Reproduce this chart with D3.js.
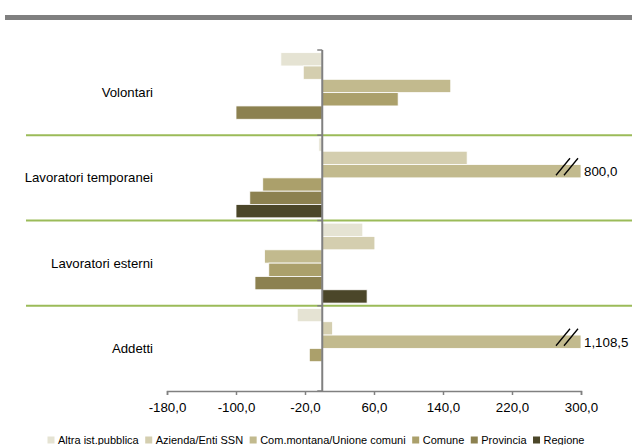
<!DOCTYPE html>
<html>
<head>
<meta charset="utf-8">
<script src="https://cdn.jsdelivr.net/npm/d3@7"></script>
<style>
  html, body { margin: 0; padding: 0; background: #fff; }
  svg { display: block; font-family: "Liberation Sans", Arial, sans-serif; }
</style>
</head>
<body>
<svg id="chart" width="632" height="445"></svg>
<script>
// ---- data ----
const categories = ["Volontari", "Lavoratori temporanei", "Lavoratori esterni", "Addetti"];
const seriesNames = ["Altra ist.pubblica", "Azienda/Enti SSN", "Com.montana/Unione comuni", "Comune", "Provincia", "Regione"];
const altraValues     = [-48, -4, 47, -29];
const aziendaValues   = [-22, 168, 61, 12];
const comMontanaValues = [149, 800, -67, 1108.5];
const comuneValues    = [88, -69, -62, -15];
const provinciaValues = [-100, -84, -78, null];
const regioneValues   = [null, -100, 52, null];
const tickValues = [-180, -100, -20, 60, 140, 220, 300];
const valueLabels = { "800": "800,0", "1108.5": "1,108,5" };

const seriesValues = [altraValues, aziendaValues, comMontanaValues, comuneValues, provinciaValues, regioneValues];
const colors = ["#E5E3D3", "#D4CEAF", "#C2BA8E", "#ABA06B", "#8C8150", "#4B4629"];

// ---- layout ----
const svg = d3.select("#chart");
const W = 632;
const plotTop = 50, plotBottom = 391;
const xMin = -180, xMax = 300;

const x = d3.scaleLinear().domain([xMin, xMax]).range([167, 581]);
const y = d3.scaleBand().domain(categories).range([plotTop, plotBottom]).padding(0);
const ySub = d3.scaleBand().domain(seriesNames).range([0, y.bandwidth()]).paddingInner(0).paddingOuter(0.2);

// top gray rule
svg.append("rect").attr("x", 5).attr("y", 15).attr("width", W - 5).attr("height", 5).attr("fill", "#808080");

// green separators
categories.slice(1).forEach(c => {
  svg.append("line")
    .attr("x1", 26).attr("x2", W)
    .attr("y1", y(c)).attr("y2", y(c))
    .attr("stroke", "#9BBB59").attr("stroke-width", 2);
});

// bars
const bars = [];
categories.forEach((c, ci) => {
  seriesNames.forEach((s, si) => {
    const v = seriesValues[si][ci];
    if (v === null || v === undefined) return;
    bars.push({ c, s, si, v });
  });
});

const gBars = svg.append("g");
gBars.selectAll("rect").data(bars).join("rect")
  .attr("x", d => x(Math.min(0, d.v)))
  .attr("width", d => Math.abs(x(Math.max(xMin, Math.min(xMax, d.v))) - x(0)))
  .attr("y", d => y(d.c) + ySub(d.s))
  .attr("height", ySub.bandwidth())
  .attr("fill", d => colors[d.si])
  .attr("stroke", "#ffffff").attr("stroke-width", 0.8);

// breaks and labels for clipped bars
const clipped = bars.filter(d => d.v > xMax);
clipped.forEach(d => {
  const cy = y(d.c) + ySub(d.s) + ySub.bandwidth() / 2;
  const bcy = cy - 4.5;
  [x(xMax) - 18, x(xMax) - 10].forEach(cx => {
    svg.append("line")
      .attr("x1", cx - 7).attr("y1", bcy + 8.5)
      .attr("x2", cx + 7).attr("y2", bcy - 8.5)
      .attr("stroke", "#000").attr("stroke-width", 1.3);
  });
  svg.append("text")
    .attr("x", x(xMax) + 3).attr("y", cy).attr("dy", "0.38em")
    .attr("font-size", "13.3px").attr("fill", "#000")
    .text(valueLabels[String(d.v)]);
});

// vertical (category) axis at zero
const x0 = x(0);
svg.append("line").attr("x1", x0).attr("x2", x0).attr("y1", plotTop).attr("y2", plotBottom)
  .attr("stroke", "#808080").attr("stroke-width", 2);
const boundaries = categories.map(c => y(c)).concat([plotBottom]);
boundaries.forEach(b => {
  svg.append("line").attr("x1", x0 - 5).attr("x2", x0).attr("y1", b).attr("y2", b)
    .attr("stroke", "#808080").attr("stroke-width", 1.5);
});

// category labels
categories.forEach(c => {
  svg.append("text")
    .attr("x", 153).attr("y", y(c) + y.bandwidth() / 2).attr("dy", "0.35em")
    .attr("text-anchor", "end").attr("font-size", "13.2px").attr("fill", "#000")
    .text(c);
});

// bottom value axis
const fmt = v => d3.format(".1f")(v).replace("\u2212", "-").replace(".", ",");
const xAxis = d3.axisBottom(x).tickValues(tickValues).tickSize(4).tickSizeOuter(4).tickFormat(fmt);
const gx = svg.append("g").attr("transform", `translate(0,${plotBottom})`).call(xAxis);
gx.select(".domain").attr("stroke", "#808080").attr("stroke-width", 1.5);
gx.selectAll(".tick line").attr("stroke", "#808080").attr("stroke-width", 1.5);
gx.selectAll(".tick text").attr("font-size", "13.3px").attr("fill", "#000")
  .attr("font-family", "Liberation Sans, Arial, sans-serif").attr("y", 12);

// legend
const legend = svg.append("g");
let lx = 0;
const items = [];
seriesNames.forEach((s, i) => {
  const g = legend.append("g");
  g.append("rect").attr("x", 0).attr("y", -3.5).attr("width", 7).attr("height", 7).attr("fill", colors[i]);
  const t = g.append("text").attr("x", 10.5).attr("y", 0).attr("dy", "0.35em")
    .attr("font-size", "11px").attr("fill", "#000").text(s);
  const w = t.node().getComputedTextLength();
  g.attr("transform", `translate(${lx},0)`);
  lx += 10.5 + w + 6.5;
});
const totalW = lx - 6.5;
legend.attr("transform", `translate(${(W - totalW) / 2},440)`);
</script>
</body>
</html>
